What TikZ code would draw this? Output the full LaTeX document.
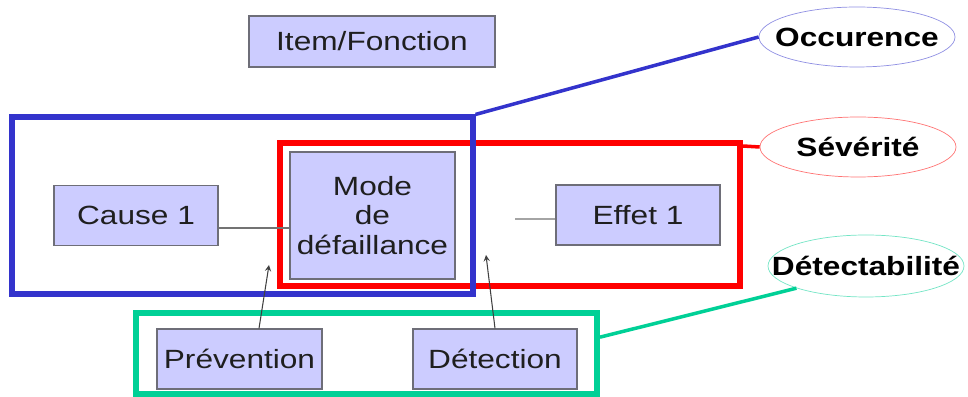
\documentclass[tikz,border=0pt]{standalone}
\usepackage{fontspec}
\setmainfont{Liberation Sans}[FakeStretch=1.2]
\usetikzlibrary{shapes.geometric}
\definecolor{lavender}{RGB}{204,204,255}
\definecolor{boxgray}{RGB}{110,110,120}
\definecolor{occblue}{RGB}{51,51,204}
\definecolor{sevred}{RGB}{255,0,0}
\definecolor{detgreen}{RGB}{0,208,150}
\begin{document}
\begin{tikzpicture}

% definitions
\tikzstyle{block} = [rectangle, minimum width=3.28cm, minimum height=1.2cm, draw=boxgray, line width=0.7pt, fill=lavender, text=black!88, font=\fontsize{15}{17}\selectfont, align=center]

\tikzstyle{frameBlue} = [rectangle, draw=occblue, line width=2.9pt]

\tikzstyle{frameRed} = [rectangle, draw=sevred, line width=3.4pt]

\tikzstyle{frameGreen} = [rectangle, draw=detgreen, line width=3.4pt]

\tikzstyle{oval} = [ellipse, minimum width=3.92cm, minimum height=1.2cm, inner sep=0pt, fill=white, label={[font=\fontsize{15}{17}\selectfont\bfseries]center:#1}]

\tikzstyle{arrow} = [->,>=stealth, draw=black!75, semithick]

\tikzstyle{link} = [draw=black!55, semithick]

\useasboundingbox (0,0) rectangle (19.36,7.94);


% frames
\node (red) [frameRed, minimum width=9.20cm, minimum height=2.86cm] at (10.20,3.65) {};
\node (blue) [frameBlue, minimum width=9.22cm, minimum height=3.54cm] at (4.85,3.83) {};
\node (green) [frameGreen, minimum width=9.22cm, minimum height=1.62cm] at (7.33,0.87) {};


% blocks
\node (item) [block, minimum width=4.92cm, minimum height=1.02cm] at (7.44,7.11) {Item/Fonction};
\node (cause) [block] at (2.72,3.63) {Cause 1};
\node (mode) [block, minimum width=3.30cm, minimum height=2.54cm] at (7.45,3.63) {Mode\\de\\défaillance};
\node (effet) [block] at (12.76,3.64) {Effet 1};
\node (prev) [block, minimum width=3.30cm] at (4.79,0.76) {Prévention};
\node (detect) [block] at (9.90,0.76) {Détection};

\coordinate (stub) at (10.30,3.56);
\coordinate (pt) at (5.38,2.64);
\coordinate (dt) at (9.72,2.84);

\draw [link] ([yshift=-0.25cm]cause.east) -- ([yshift=-0.25cm]mode.west);
\draw [link] (stub) -- ([yshift=-0.08cm]effet.west);

\draw [arrow] ([xshift=0.39cm]prev.north) -- (pt);
\draw [arrow] (detect.north) -- (dt);


% ratings
\node (occ) [oval=Occurence, draw=occblue!55] at (17.14,7.20) {};
\node (sev) [oval=Sévérité, draw=sevred!55] at (17.16,5.00) {};
\node (det) [oval=Détectabilité, draw=detgreen!55, minimum height=1.24cm] at (17.32,2.62) {};

\draw [occblue, line width=2pt] (blue.north east) -- (occ.west);
\draw [sevred, line width=2pt] ([yshift=-0.12cm]red.north east) -- (sev.west);
\draw [detgreen, line width=2pt] (green.4) -- (det.south west);


\end{tikzpicture}
\end{document}
